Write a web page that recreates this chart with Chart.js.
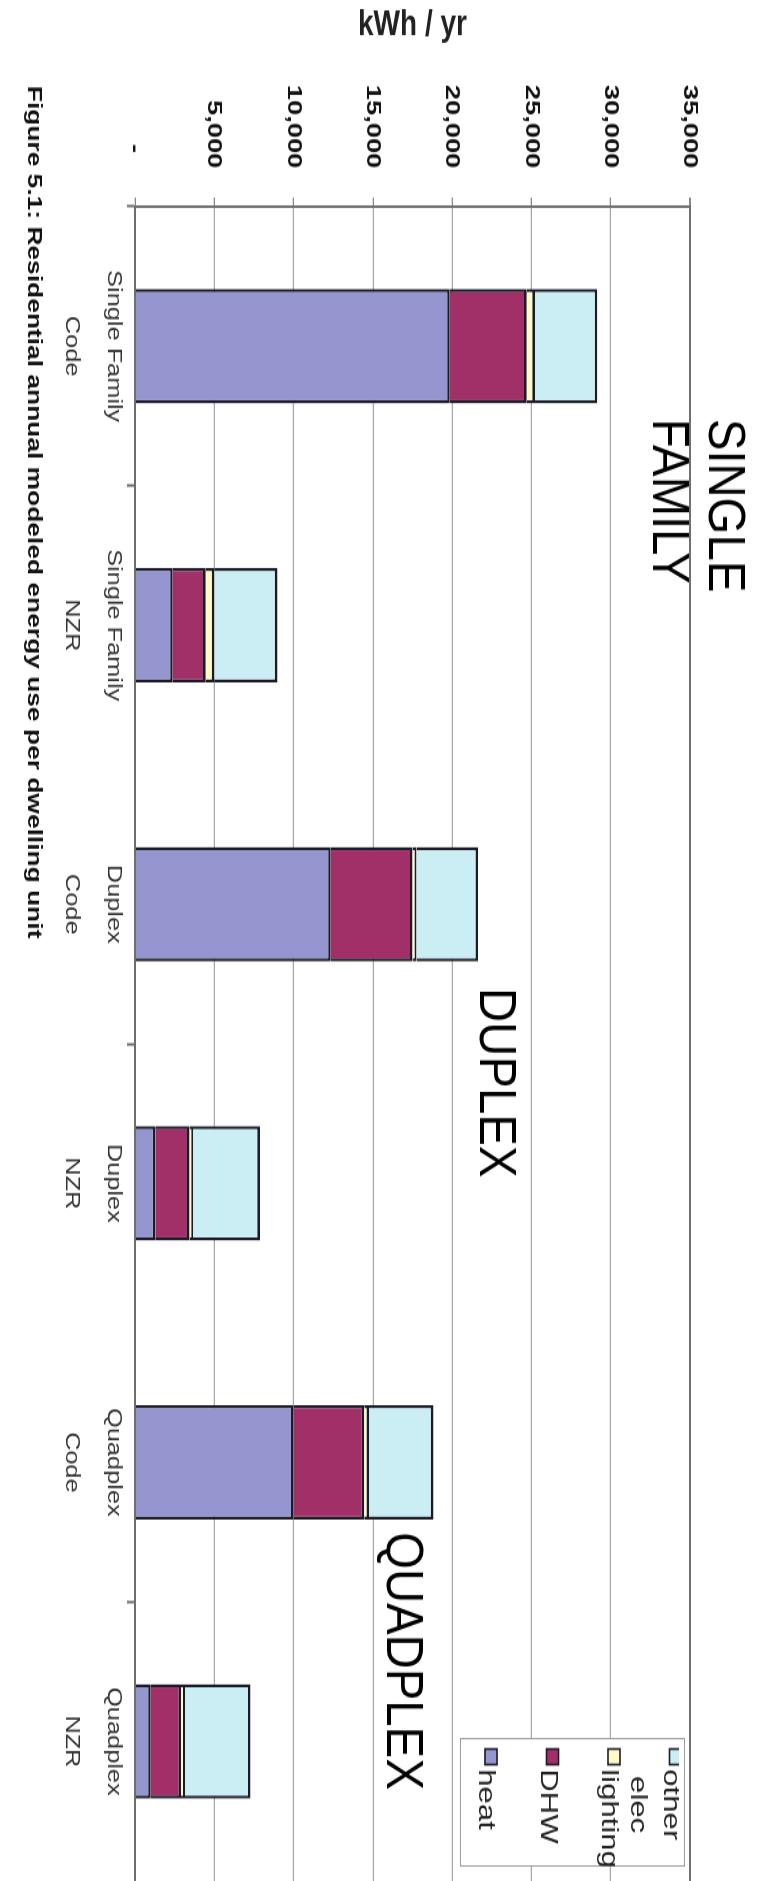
<!DOCTYPE html>
<html>
<head>
<meta charset="utf-8">
<script src="https://cdn.jsdelivr.net/npm/chart.js@4.4.1/dist/chart.umd.min.js"></script>
<style>
  html, body { margin: 0; padding: 0; background: #fff; }
  #page { position: relative; width: 760px; height: 1881px; overflow: hidden; background: #fff; }
  /* the scanned figure is turned a quarter clockwise and stretched a little along its length */
  #turned { position: absolute; left: 0; top: 0; width: 1447px; height: 760px;
            transform-origin: 0 0; transform: translateX(760px) rotate(90deg) scaleX(1.2999); }
</style>
</head>
<body>
<div id="page"><div id="turned"><canvas id="energyChart" width="1447" height="760"></canvas></div></div>
<script>
const categories = [
  ['Single Family', 'Code'], ['Single Family', 'NZR'],
  ['Duplex', 'Code'], ['Duplex', 'NZR'],
  ['Quadplex', 'Code'], ['Quadplex', 'NZR'],
];
const heat = [19850, 2380, 12350, 1280, 10000, 1000];
const dhw = [4850, 2080, 5150, 2160, 4450, 1900];
const lighting = [520, 540, 250, 210, 300, 250];
const otherElec = [3930, 3980, 3880, 4230, 4070, 4140];
const seriesNames = ['heat', 'DHW', 'lighting', 'other elec'];
const seriesColors = ['#9595d0', '#a12f68', '#fffbc8', '#cbeef4'];
const tickLabels = ['-  ', '5,000', '10,000', '15,000', '20,000', '25,000', '30,000', '35,000'];
const groupNames = [['SINGLE', 'FAMILY'], ['DUPLEX'], ['QUADPLEX']];
const caption = 'Figure 5.1: Residential annual modeled energy use per dwelling unit';

const FONT = "'Liberation Sans', Arial, sans-serif";
const INK = '#1c1c28';
// where the group names sit: fractional category index and kWh of the first baseline
const groupAnchors = [{ index: 0.26, value: 36200 }, { index: 2.3, value: 21760 }, { index: 4.25, value: 15890 }];

function wrapLabel(ctx, text, maxW) {
  const words = text.split(' ');
  const lines = [];
  let cur = '';
  words.forEach((w) => {
    const next = cur ? cur + ' ' + w : w;
    if (cur && ctx.measureText(next).width > maxW) { lines.push(cur); cur = w; } else cur = next;
  });
  lines.push(cur);
  return lines;
}

const notesPlugin = {
  id: 'notes',
  afterDatasetsDraw(chart) {
    const { ctx, scales: { x, y } } = chart;
    ctx.save();
    ctx.fillStyle = '#000';
    ctx.font = `52px ${FONT}`;
    ctx.textBaseline = 'alphabetic';
    groupNames.forEach((lines, i) => {
      const px = x.getPixelForValue(groupAnchors[i].index);
      const py = y.getPixelForValue(groupAnchors[i].value);
      lines.forEach((line, j) => {
        ctx.save();
        ctx.translate(px, py + j * 56);
        ctx.scale(0.7, 1);
        ctx.fillText(line, 0, 0);
        ctx.restore();
      });
    });
    ctx.restore();
  },
  afterDraw(chart) {
    const ctx = chart.ctx;
    // legend box, inside the plot, reversed like the stacking
    const box = { left: 1337, top: 75, right: 1436, bottom: 300 };
    ctx.save();
    ctx.fillStyle = '#fff';
    ctx.fillRect(box.left, box.top, box.right - box.left, box.bottom - box.top);
    ctx.strokeStyle = '#9a9a9a';
    ctx.lineWidth = 1;
    ctx.strokeRect(box.left + 0.5, box.top + 0.5, box.right - box.left - 1, box.bottom - box.top - 1);
    ctx.beginPath();
    ctx.rect(box.left, 81, box.right - box.left, box.bottom - 81);
    ctx.clip();
    ctx.font = `24px ${FONT}`;
    ctx.textBaseline = 'alphabetic';
    chart.data.datasets.slice().reverse().forEach((ds, i) => {
      const base = 96 + i * 61.5;
      ctx.fillStyle = ds.backgroundColor;
      ctx.fillRect(1345, base - 18, 13, 13);
      ctx.strokeStyle = INK;
      ctx.lineWidth = 1.6;
      ctx.strokeRect(1345.5, base - 17.5, 12, 12);
      const lines = wrapLabel(ctx, ds.label, 80);
      const w = Math.max(...lines.map((l) => ctx.measureText(l).width));
      ctx.fillStyle = '#222';
      ctx.textAlign = 'center';
      lines.forEach((l, j) => ctx.fillText(l, 1361 + w / 2, base + j * 32.5));
    });
    ctx.restore();

    ctx.save();
    ctx.fillStyle = '#111';
    ctx.font = `bold 20.3px ${FONT}`;
    ctx.textAlign = 'left';
    ctx.textBaseline = 'alphabetic';
    ctx.fillText(caption, 66, 731.5);
    ctx.restore();
  },
};

const series = [heat, dhw, lighting, otherElec];
const ctx = document.getElementById('energyChart');
new Chart(ctx, {
  type: 'bar',
  data: {
    labels: categories,
    datasets: series.map((data, i) => ({
      label: seriesNames[i],
      data,
      backgroundColor: seriesColors[i],
      borderColor: INK,
      borderWidth: { top: 2.6, right: 2.4, bottom: 0, left: 2.4 },
      borderSkipped: 'start',
      barPercentage: 0.41,
      categoryPercentage: 1,
    })),
  },
  options: {
    responsive: false, animation: false,
    layout: { padding: { top: 70, left: 0, right: 0, bottom: 0 } },
    font: { family: FONT },
    plugins: { legend: { display: false }, tooltip: { enabled: false } },
    scales: {
      x: {
        stacked: true, offset: true,
        afterFit: (scale) => { scale.height = 135; },
        border: { display: true, color: '#6e6e6e', width: 2 },
        grid: {
          offset: true, drawOnChartArea: false, drawTicks: true, tickLength: 8, tickWidth: 2,
          tickColor: (c) => ([0, 1, 3, 5].includes(c.index) ? '#6e6e6e' : 'rgba(0,0,0,0)'),
        },
        ticks: {
          autoSkip: false, maxRotation: 0, padding: -7, color: '#333',
          font: { family: FONT, size: 19.5, lineHeight: 2.15 },
        },
      },
      y: {
        stacked: true, min: 0, max: 35000,
        afterFit: (scale) => { scale.width = 159; },
        border: { display: true, color: '#6e6e6e', width: 2 },
        grid: {
          color: (c) => (c.tick && c.tick.value === 35000 ? '#707070' : '#a8a8a8'),
          lineWidth: (c) => (c.tick && c.tick.value === 35000 ? 2 : 1.3),
          tickLength: 7, tickColor: '#8a8a8a',
        },
        ticks: {
          stepSize: 5000, padding: 22.5, color: '#111',
          font: { family: FONT, size: 21, weight: 'bold' },
          callback: (value, i) => tickLabels[i],
        },
        title: {
          display: true, text: 'kWh / yr', color: '#222',
          font: { family: FONT, size: 28, weight: 'bold' },
          padding: { top: 2, bottom: 0 },
        },
      },
    },
  },
  plugins: [notesPlugin],
});
</script>
</body>
</html>
